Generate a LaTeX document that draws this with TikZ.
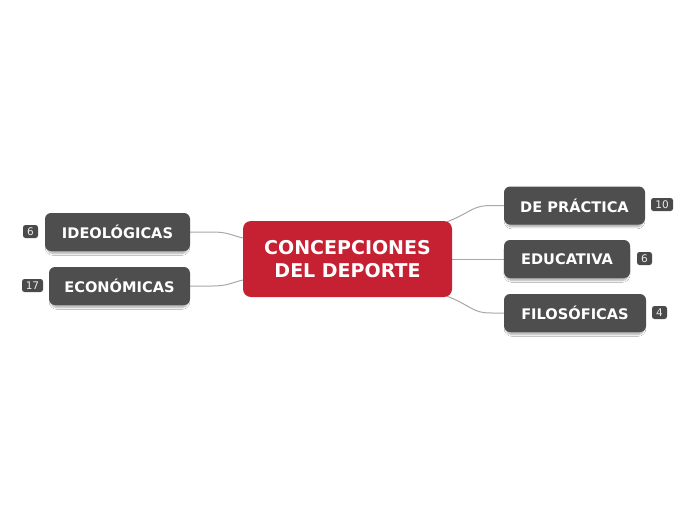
\documentclass[tikz,border=0pt]{standalone}
\usepackage{fontspec}
\setmainfont{DejaVu Sans}
\usetikzlibrary{calc,shadows.blur}
\pgfdeclarelayer{background}
\pgfsetlayers{background,main}
\definecolor{mainred}{HTML}{C62033}
\definecolor{boxgray}{HTML}{4E4E4E}
\definecolor{badgegray}{HTML}{4A4A4A}
\definecolor{linkgray}{HTML}{A8A8A8}
\tikzset{
  centerbox/.style={fill=mainred, rounded corners=8pt, minimum width=209pt, minimum height=76pt,
    text=white, font=\fontsize{19}{23}\bfseries, align=center, inner sep=0pt},
  topicbox/.style={fill=boxgray, rounded corners=6pt, minimum height=38pt,
    text=white, font=\fontsize{14.6}{17}\bfseries, inner sep=0pt,
    blur shadow={shadow xshift=0pt, shadow yshift=-3pt, shadow scale=0.97, shadow blur radius=2pt, shadow blur steps=6, shadow opacity=35}},
  badge/.style={fill=badgegray, rounded corners=2.5pt, minimum height=13pt,
    text=white!92!black, font=\fontsize{10.5}{11}\selectfont, inner sep=0pt},
  link/.style={draw=linkgray, line width=1pt}
}
\begin{document}
\begin{tikzpicture}[x=1pt,y=-1pt]
\useasboundingbox (0,0) rectangle (696,520);
% nodes
\node[centerbox] (c) at (347.5,259) {CONCEPCIONES\\DEL DEPORTE};
\node[topicbox, minimum width=141pt] (dp) at (574.5,205.5) {DE PRÁCTICA};
\node[topicbox, minimum width=126pt] (ed) at (567,259) {EDUCATIVA};
\node[topicbox, minimum width=142pt] (fi) at (575,313) {FILOSÓFICAS};
\node[topicbox, minimum width=145pt] (id) at (117.5,232) {IDEOLÓGICAS};
\node[topicbox, minimum width=141pt] (ec) at (119.5,286) {ECONÓMICAS};
% badges
\node[badge, minimum width=22pt] (b1) at (662,204.5) {10};
\node[badge, minimum width=15pt] (b2) at (644.5,258.5) {6};
\node[badge, minimum width=15pt] (b3) at (659.5,312.5) {4};
\node[badge, minimum width=15pt] (b4) at (30.5,231.5) {6};
\node[badge, minimum width=21pt] (b5) at (32.5,285.5) {17};
% connectors (behind nodes)
\begin{pgfonlayer}{background}
\fill[white] (0,0) rectangle (696,520);
\path[link] ($(c.north east)+(-5,1)$) .. controls +(25,-10) and +(-20,0) .. ($(dp.west)+(-12,0)$) -- (dp.west);
\path[link] (c.east) -- (ed.west);
\path[link] ($(c.south east)+(-5,-1)$) .. controls +(25,10) and +(-20,0) .. ($(fi.west)+(-12,0)$) -- (fi.west);
\path[link] (id.east) -- ++(22,0) .. controls +(15,0) and +(-12,-3) .. ($(c.west)+(0,-21)$);
\path[link] (ec.east) -- ++(22,0) .. controls +(15,0) and +(-12,3) .. ($(c.west)+(0,21)$);
\end{pgfonlayer}
\end{tikzpicture}
\end{document}
